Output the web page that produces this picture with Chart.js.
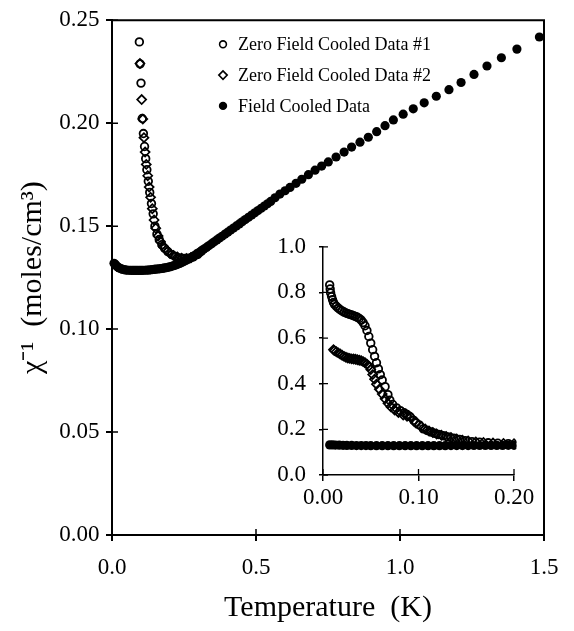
<!DOCTYPE html>
<html>
<head>
<meta charset="utf-8">
<script src="https://cdn.jsdelivr.net/npm/chart.js@4/dist/chart.umd.min.js"></script>
<style>
html, body { margin: 0; padding: 0; background: #fff; }
#wrap { position: relative; width: 574px; height: 631px; overflow: hidden; background: #fff; }
#main { position: absolute; left: 0; top: 0; }
#inset { position: absolute; left: 270px; top: 220px; }
</style>
</head>
<body>
<div id="wrap">
  <canvas id="main" width="574" height="631"></canvas>
  <canvas id="inset" width="270" height="300"></canvas>
</div>
<script>
// ---------------- data ----------------
const seriesNames = ['Zero Field Cooled Data #1', 'Zero Field Cooled Data #2', 'Field Cooled Data'];
const xTitle = 'Temperature  (K)';
const yTitle = 'χ⁻¹  (moles/cm³)';

const xTickVals = [0, 0.5, 1.0, 1.5];
const xTickLabels = ['0.0', '0.5', '1.0', '1.5'];
const yTickVals = [0, 0.05, 0.10, 0.15, 0.20, 0.25];
const yTickLabels = ['0.00', '0.05', '0.10', '0.15', '0.20', '0.25'];

const insetXTickVals = [0, 0.10, 0.20];
const insetXTickLabels = ['0.00', '0.10', '0.20'];
const insetYTickVals = [0, 0.2, 0.4, 0.6, 0.8, 1.0];
const insetYTickLabels = ['0.0', '0.2', '0.4', '0.6', '0.8', '1.0'];

// Zero field cooled #1 (open circles) - upper curve of the inset
const zfc1T = [0.007, 0.0075, 0.008, 0.009, 0.010, 0.011, 0.012, 0.014, 0.016, 0.018,
  0.020, 0.022, 0.024, 0.026, 0.028, 0.030, 0.032, 0.034, 0.036, 0.038,
  0.040, 0.042, 0.044, 0.046, 0.048, 0.050, 0.052, 0.054, 0.056, 0.058,
  0.060, 0.062, 0.065, 0.068, 0.070, 0.073, 0.077, 0.081, 0.085, 0.088,
  0.091, 0.095, 0.0975, 0.1007, 0.105, 0.109, 0.113, 0.117, 0.121, 0.126,
  0.131, 0.137, 0.143, 0.149, 0.156, 0.164, 0.173, 0.183, 0.194, 0.208,
  0.220, 0.235, 0.250, 0.265, 0.280, 0.295, 0.310];
const zfc1Chi = [0.833, 0.815, 0.798, 0.782, 0.768, 0.756, 0.748, 0.739, 0.731, 0.724,
  0.719, 0.714, 0.710, 0.707, 0.704, 0.701, 0.698, 0.695, 0.691, 0.686,
  0.679, 0.668, 0.654, 0.633, 0.607, 0.578, 0.549, 0.520, 0.492, 0.465,
  0.440, 0.416, 0.387, 0.352, 0.328, 0.309, 0.294, 0.282, 0.273, 0.265,
  0.256, 0.2395, 0.2288, 0.2195, 0.2023, 0.1950, 0.1887, 0.1828, 0.1774, 0.1718,
  0.1664, 0.1610, 0.1560, 0.1500, 0.1462, 0.1435, 0.1410, 0.1392, 0.1376, 0.1362,
  0.1353, 0.1346, 0.1343, 0.1344, 0.1350, 0.1362, 0.1378];

// Zero field cooled #2 (open diamonds) - lower curve of the inset
const zfc2T = [0.011, 0.012, 0.014, 0.016, 0.018, 0.020, 0.022, 0.024, 0.026, 0.028,
  0.030, 0.032, 0.034, 0.036, 0.038, 0.040, 0.042, 0.044, 0.046, 0.048,
  0.050, 0.052, 0.054, 0.056, 0.059, 0.062, 0.065, 0.068, 0.071, 0.075,
  0.079, 0.084, 0.088, 0.092, 0.097, 0.103, 0.107, 0.111, 0.115, 0.119,
  0.124, 0.129, 0.134, 0.140, 0.146, 0.152, 0.160, 0.168, 0.178, 0.189,
  0.200, 0.213, 0.227, 0.242, 0.258, 0.274, 0.290, 0.305];
const zfc2Chi = [0.549, 0.545, 0.540, 0.535, 0.530, 0.525, 0.520, 0.516, 0.513, 0.511,
  0.509, 0.508, 0.507, 0.505, 0.503, 0.501, 0.497, 0.492, 0.486, 0.477,
  0.462, 0.440, 0.420, 0.398, 0.376, 0.355, 0.334, 0.314, 0.299, 0.285,
  0.274, 0.263, 0.257, 0.253, 0.229, 0.2115, 0.2020, 0.1930, 0.1860, 0.1800,
  0.1745, 0.1690, 0.1640, 0.1585, 0.1530, 0.1490, 0.1452, 0.1425, 0.1400, 0.1385,
  0.1370, 0.1358, 0.1350, 0.1345, 0.1343, 0.1347, 0.1357, 0.1370];

// Field cooled (filled circles)
const fcT = [0.007, 0.010, 0.013, 0.017, 0.021, 0.025, 0.030, 0.035, 0.040, 0.045,
  0.050, 0.056, 0.062, 0.068, 0.074, 0.080, 0.086, 0.092, 0.098, 0.104,
  0.110, 0.116, 0.122, 0.128, 0.134, 0.140, 0.146, 0.152, 0.158, 0.164,
  0.170, 0.176, 0.182, 0.188, 0.194, 0.200, 0.207, 0.214, 0.221, 0.228,
  0.235, 0.242, 0.249, 0.256, 0.263, 0.270, 0.278, 0.286, 0.294, 0.302,
  0.310, 0.319, 0.328, 0.337, 0.346, 0.355, 0.364, 0.373, 0.382, 0.392,
  0.402, 0.412, 0.422, 0.432, 0.442, 0.452, 0.463, 0.474, 0.485, 0.496,
  0.507, 0.518, 0.529, 0.540, 0.551, 0.566, 0.583, 0.601, 0.618, 0.639,
  0.659, 0.682, 0.705, 0.728, 0.751, 0.778, 0.806, 0.832, 0.861, 0.890,
  0.919, 0.948, 0.977, 1.011, 1.046, 1.084, 1.126, 1.170, 1.212, 1.257,
  1.302, 1.352, 1.406, 1.484];
const fcChi = [0.1320, 0.1316, 0.1311, 0.1305, 0.1300, 0.1297, 0.1294, 0.1291, 0.1289, 0.1288,
  0.1287, 0.1286, 0.1286, 0.1285, 0.1285, 0.1285, 0.1285, 0.1285, 0.1285, 0.1285,
  0.1286, 0.1286, 0.1287, 0.1287, 0.1288, 0.1289, 0.1290, 0.1291, 0.1292, 0.1293,
  0.1294, 0.1295, 0.1297, 0.1298, 0.1300, 0.1302, 0.1305, 0.1308, 0.1311, 0.1315,
  0.1319, 0.1323, 0.1328, 0.1333, 0.1338, 0.1343, 0.1350, 0.1357, 0.1365, 0.1372,
  0.1380, 0.1389, 0.1397, 0.1406, 0.1415, 0.1424, 0.1433, 0.1442, 0.1451, 0.1461,
  0.1471, 0.1481, 0.1491, 0.1501, 0.1511, 0.1521, 0.1532, 0.1543, 0.1554, 0.1565,
  0.1576, 0.1587, 0.1598, 0.1609, 0.1620, 0.1638, 0.1656, 0.1672, 0.1688, 0.1708,
  0.1728, 0.1750, 0.1772, 0.1792, 0.1812, 0.1836, 0.1860, 0.1884, 0.1908, 0.1932,
  0.1959, 0.1988, 0.2016, 0.2044, 0.2070, 0.2099, 0.2131, 0.2163, 0.2198, 0.2237,
  0.2278, 0.2318, 0.2360, 0.2419];

// ---------------- helpers ----------------
const FONT = '"Liberation Serif", "Times New Roman", Times, serif';
const pts = (xs, ys) => xs.map((x, i) => ({ x: x, y: ys[i] }));

function makeDatasets(clip) {
  return [
    { label: seriesNames[0], data: pts(zfc1T, zfc1Chi), pointStyle: 'circle',
      pointRadius: 3.8, pointHoverRadius: 3.8, pointBorderWidth: 1.8,
      pointBorderColor: '#000', pointBackgroundColor: 'rgba(0,0,0,0)', order: 2, clip: clip },
    { label: seriesNames[1], data: pts(zfc2T, zfc2Chi), pointStyle: 'rectRot',
      pointRadius: 4.5, pointHoverRadius: 4.5, pointBorderWidth: 1.7,
      pointBorderColor: '#000', pointBackgroundColor: 'rgba(0,0,0,0)', order: 1, clip: clip },
    { label: seriesNames[2], data: pts(fcT, fcChi), pointStyle: 'circle',
      pointRadius: 4.6, pointHoverRadius: 4.6, pointBorderWidth: 0,
      pointBorderColor: '#000', pointBackgroundColor: '#000', order: 0, clip: clip }
  ];
}

// frame + inward ticks
const frameTicks = {
  id: 'frameTicks',
  afterDatasetsDraw(chart, args, opts) {
    const { ctx, chartArea: a, scales } = chart;
    const x = scales.x, y = scales.y;
    ctx.save();
    ctx.strokeStyle = '#000';
    if (opts.box) {
      ctx.lineWidth = opts.boxWidth;
      ctx.beginPath();
      ctx.moveTo(a.left, a.top);
      ctx.lineTo(a.right, a.top);
      ctx.lineTo(a.right, a.bottom);
      ctx.stroke();
    }
    ctx.lineWidth = opts.tickWidth;
    ctx.beginPath();
    x.ticks.forEach(t => {
      const px = x.getPixelForValue(t.value);
      ctx.moveTo(px, a.bottom);
      ctx.lineTo(px, a.bottom - opts.xLen);
    });
    y.ticks.forEach(t => {
      const py = y.getPixelForValue(t.value);
      ctx.moveTo(a.left, py);
      ctx.lineTo(a.left + opts.yLen, py);
    });
    ctx.stroke();
    ctx.restore();
  }
};

// legend drawn inside the plot area
const insideLegend = {
  id: 'insideLegend',
  afterDraw(chart, args, opts) {
    if (!opts.display) return;
    const { ctx, chartArea: a } = chart;
    ctx.save();
    ctx.font = opts.size + 'px ' + FONT;
    ctx.textBaseline = 'middle';
    ctx.textAlign = 'left';
    chart.data.datasets.forEach((ds, i) => {
      const cx = a.left + opts.left;
      const cy = a.top + opts.top + i * opts.gap;
      ctx.fillStyle = ds.pointBackgroundColor;
      ctx.strokeStyle = ds.pointBorderColor;
      ctx.lineWidth = opts.markerBorder;
      Chart.helpers.drawPoint(ctx, {
        pointStyle: ds.pointStyle, radius: opts.markerRadius[i],
        borderWidth: ds.pointBorderWidth ? opts.markerBorder : 0, rotation: 0
      }, cx, cy);
      ctx.fillStyle = '#000';
      ctx.fillText(ds.label, cx + opts.textGap, cy + 1);
    });
    ctx.restore();
  }
};

function axis(min, max, vals, labels, size, pad, tickLen, borderW, fit, title) {
  return {
    type: 'linear', min: min, max: max,
    afterBuildTicks: s => { s.ticks = vals.map(v => ({ value: v })); },
    afterFit: fit,
    ticks: {
      callback: (v, i) => labels[i],
      font: { family: FONT, size: size }, color: '#000',
      padding: pad, maxRotation: 0, autoSkip: false
    },
    grid: { drawOnChartArea: false, drawTicks: true, tickLength: tickLen, color: '#000', lineWidth: borderW },
    border: { display: true, color: '#000', width: borderW },
    title: title
  };
}

// ---------------- main chart ----------------
new Chart(document.getElementById('main'), {
  type: 'scatter',
  data: { datasets: makeDatasets({ left: 6, top: 0, right: 6, bottom: 6 }) },
  options: {
    responsive: false, animation: false, events: [],
    layout: { padding: { left: 11, top: 13, right: 30, bottom: 0 } },
    plugins: {
      legend: { display: false }, tooltip: { enabled: false },
      frameTicks: { box: true, boxWidth: 2, tickWidth: 1.5, xLen: 6, yLen: 6 },
      insideLegend: { display: true, size: 18, left: 111, top: 24, gap: 30.8, textGap: 15,
                      markerRadius: [3.4, 4.2, 4.2], markerBorder: 1.6 }
    },
    scales: {
      x: axis(0, 1.5, xTickVals, xTickLabels, 23, 13, 6, 2,
        s => { s.height = 96; },
        { display: true, text: xTitle, color: '#000', font: { family: FONT, size: 30 }, padding: { top: 0, bottom: 5 } }),
      y: axis(0, 0.25, yTickVals, yTickLabels, 23, 6.5, 6, 2,
        s => { s.width = 101; },
        { display: true, text: yTitle, color: '#000', font: { family: FONT, size: 30 }, padding: { top: 4, bottom: 0 } })
    }
  },
  plugins: [frameTicks, insideLegend]
});

// ---------------- inset chart ----------------
new Chart(document.getElementById('inset'), {
  type: 'scatter',
  data: { datasets: makeDatasets({ left: 6, top: 6, right: 2.4, bottom: 6 }) },
  options: {
    responsive: false, animation: false, events: [],
    layout: { padding: { left: 0, top: 15, right: 26, bottom: 0 } },
    plugins: {
      legend: { display: false }, tooltip: { enabled: false },
      frameTicks: { box: false, boxWidth: 1.5, tickWidth: 1.3, xLen: 6, yLen: 5 },
      insideLegend: { display: false }
    },
    scales: {
      x: axis(0, 0.2, insetXTickVals, insetXTickLabels, 23, 3, 6, 1.5,
        s => { s.height = 45; }, { display: false }),
      y: axis(0, 1.0, insetYTickVals, insetYTickLabels, 23, 13, 4, 1.5,
        s => { s.width = 53; }, { display: false })
    }
  },
  plugins: [frameTicks, insideLegend]
});
</script>
</body>
</html>
